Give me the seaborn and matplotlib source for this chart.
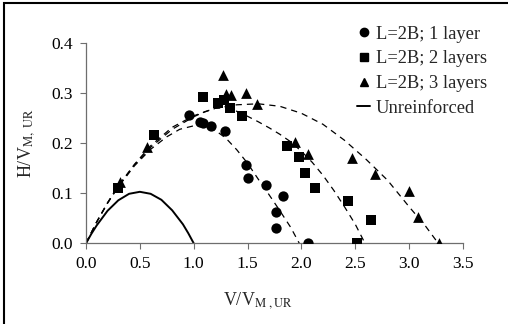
import matplotlib
matplotlib.use("Agg")
import matplotlib.pyplot as plt
import matplotlib.patches as mpatches
from matplotlib.lines import Line2D
import seaborn as sns
import pandas as pd

# ---- data ----
v_1layer = [0.96, 1.06, 1.09, 1.16, 1.29, 1.49, 1.50, 1.67, 1.83, 1.76, 1.76, 2.06]
h_1layer = [0.257, 0.243, 0.240, 0.235, 0.225, 0.156, 0.130, 0.116, 0.095, 0.062, 0.031, 0.0]

v_2layers = [0.30, 0.63, 1.09, 1.23, 1.28, 1.34, 1.45, 1.87, 1.98, 2.03, 2.13, 2.43, 2.65, 2.52]
h_2layers = [0.110, 0.216, 0.293, 0.281, 0.286, 0.270, 0.255, 0.195, 0.172, 0.140, 0.111, 0.085, 0.047, 0.0]

v_3layers = [0.32, 0.57, 1.27, 1.30, 1.35, 1.49, 1.59, 1.94, 2.06, 2.47, 2.68, 3.00, 3.08, 3.28]
h_3layers = [0.122, 0.193, 0.337, 0.299, 0.297, 0.300, 0.279, 0.203, 0.179, 0.171, 0.139, 0.105, 0.053, 0.0]

# dashed envelopes
env1_v = [0.0, 0.1, 0.2, 0.3, 0.45, 0.6, 0.75, 0.87, 1.0, 1.1, 1.2, 1.3, 1.4, 1.5, 1.6, 1.7, 1.8, 1.9, 1.98]
env1_h = [0.0, 0.043, 0.080, 0.113, 0.155, 0.188, 0.213, 0.228, 0.235, 0.234, 0.226, 0.210, 0.187, 0.160, 0.128, 0.097, 0.065, 0.032, 0.0]

env2_v = [0.0, 0.1, 0.2, 0.3, 0.45, 0.6, 0.8, 1.0, 1.1, 1.2, 1.3, 1.4, 1.5, 1.6, 1.7, 1.8, 1.9, 2.0, 2.1, 2.2, 2.3, 2.4, 2.5, 2.59]
env2_h = [0.0, 0.043, 0.081, 0.114, 0.157, 0.192, 0.228, 0.253, 0.263, 0.270, 0.271, 0.264, 0.254, 0.243, 0.231, 0.218, 0.203, 0.184, 0.162, 0.136, 0.106, 0.073, 0.038, 0.0]

env3_v = [0.0, 0.1, 0.2, 0.3, 0.45, 0.6, 0.8, 1.0, 1.2, 1.4, 1.6, 1.8, 2.0, 2.2, 2.4, 2.6, 2.8, 3.0, 3.15, 3.27]
env3_h = [0.0, 0.043, 0.081, 0.115, 0.158, 0.195, 0.232, 0.255, 0.270, 0.277, 0.279, 0.274, 0.260, 0.238, 0.206, 0.168, 0.126, 0.073, 0.035, 0.0]

unr_v = [0.0, 0.05, 0.1, 0.2, 0.3, 0.4, 0.5, 0.6, 0.7, 0.8, 0.9, 0.95, 1.0]
unr_h = [0.0, 0.019, 0.036, 0.065, 0.086, 0.099, 0.103, 0.099, 0.087, 0.066, 0.038, 0.020, 0.0]

labels = ["L=2B; 1 layer", "L=2B; 2 layers", "L=2B; 3 layers", "Unreinforced"]
xticks = [0.0, 0.5, 1.0, 1.5, 2.0, 2.5, 3.0, 3.5]
yticks = [0.0, 0.1, 0.2, 0.3, 0.4]

# ---- style ----
sns.set_style("ticks")
plt.rcParams["font.family"] = ["Liberation Serif", "DejaVu Serif"]
plt.rcParams["mathtext.fontset"] = "stix"

W, H = 508, 324
fig = plt.figure(figsize=(W / 100, H / 100), dpi=100)
ax = fig.add_axes([86 / W, 1 - 243.3 / H, (463 - 86) / W, 200 / H])

axis_col = "#6e6e6e"

# envelopes
for ev, eh in [(env1_v, env1_h), (env2_v, env2_h), (env3_v, env3_h)]:
    sns.lineplot(x=ev, y=eh, ax=ax, sort=False, estimator=None, color="black",
                 lw=0.9, dashes=False, linestyle=(0, (5, 4)), legend=False)
sns.lineplot(x=unr_v, y=unr_h, ax=ax, sort=False, estimator=None, color="black",
             lw=1.4, legend=False)

# experimental points
sns.scatterplot(x=v_1layer, y=h_1layer, ax=ax, marker="o", s=55, color="black",
                edgecolor="black", linewidth=0, legend=False, zorder=3)
sns.scatterplot(x=v_2layers, y=h_2layers, ax=ax, marker="s", s=52, color="black",
                edgecolor="black", linewidth=0, legend=False, zorder=3)
sns.scatterplot(x=v_3layers, y=h_3layers, ax=ax, marker="^", s=60, color="black",
                edgecolor="black", linewidth=0, legend=False, zorder=3)

ax.set_xlim(0, 3.5)
ax.set_ylim(0, 0.4)
ax.set_xticks(xticks)
ax.set_yticks(yticks)
ax.set_xticklabels([f"{t:.1f}" for t in xticks])
ax.set_yticklabels([f"{t:.1f}" for t in yticks])
ax.tick_params(direction="out", length=4.5, width=0.8, color=axis_col,
               labelsize=12.5, labelcolor="black", pad=5)
for side in ["top", "right"]:
    ax.spines[side].set_visible(False)
for side in ["left", "bottom"]:
    ax.spines[side].set_color(axis_col)
    ax.spines[side].set_linewidth(0.9)

ax.set_xlabel(r"V/V$_{\mathrm{M\ ,UR}}$", fontsize=13)
ax.set_ylabel(r"H/V$_{\mathrm{M,\ UR}}$", fontsize=13)
ax.xaxis.set_label_coords(0.455, -0.235)
ax.yaxis.set_label_coords(-0.13, 0.5)

handles = [
    Line2D([], [], marker="o", color="black", ls="none", markersize=6),
    Line2D([], [], marker="s", color="black", ls="none", markersize=5.5),
    Line2D([], [], marker="^", color="black", ls="none", markersize=6),
    Line2D([], [], color="black", lw=1.4),
]
ax.legend(handles, labels, loc="upper left", bbox_to_anchor=(0.70, 1.125),
          frameon=False, fontsize=13.3, handlelength=0.7, handletextpad=0.3,
          labelspacing=0.42, borderaxespad=0)

# outer chart border
fig.add_artist(mpatches.Rectangle((4 / W, -0.05), 1.1, 1.05 - 3 / H,
                                  transform=fig.transFigure, fill=False,
                                  ec="black", lw=1.5, clip_on=False))

fig.savefig("out.png", dpi=100)
